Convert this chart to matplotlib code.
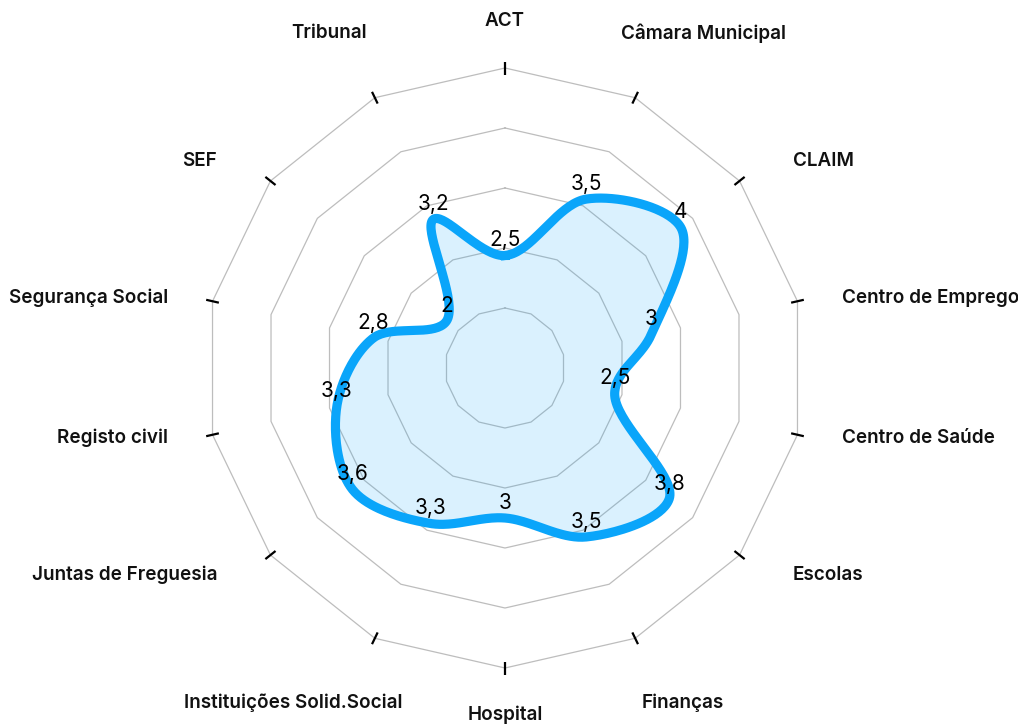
import numpy as np
import matplotlib
matplotlib.use("Agg")
import matplotlib.pyplot as plt

plt.rcParams["font.family"] = ["Inter", "DejaVu Sans"]

categories = [
    "ACT", "Câmara Municipal", "CLAIM", "Centro de Emprego", "Centro de Saúde",
    "Escolas", "Finanças", "Hospital", "Instituições Solid.Social",
    "Juntas de Freguesia", "Registo civil", "Segurança Social", "SEF", "Tribunal",
]
values = [2.5, 3.5, 4, 3, 2.5, 3.8, 3.5, 3, 3.3, 3.6, 3.3, 2.8, 2, 3.2]
r_min, r_max = 1, 5
n_rings = 5

LINE = "#0aa5fa"
GRID = "#bdbdbd"

W, H = 1018, 727
CX, CY = 505, 368      # centre of the web, in pixels from top-left
R = 300                # outer ring radius in pixels

fig = plt.figure(figsize=(W / 100, H / 100), dpi=100)
ax = fig.add_axes([0, 0, 1, 1])
ax.set_xlim(-CX, W - CX)
ax.set_ylim(-(H - CY), CY)
ax.axis("off")

n = len(categories)
theta = np.arange(n) * 2 * np.pi / n
ux, uy = np.sin(theta), np.cos(theta)


def to_r(v):
    return (np.asarray(v, dtype=float) - r_min) / (r_max - r_min) * R


# polygon grid
for k in range(1, n_rings + 1):
    rr = R * k / n_rings
    ax.plot(np.append(ux, ux[0]) * rr, np.append(uy, uy[0]) * rr,
            color=GRID, lw=0.9, zorder=1)

# small radial ticks on the outer ring
for i in range(n):
    ax.plot([ux[i] * (R - 6.5), ux[i] * (R + 6.5)],
            [uy[i] * (R - 6.5), uy[i] * (R + 6.5)],
            color="black", lw=1.6, solid_capstyle="butt", zorder=2)


# closed centripetal catmull-rom through the data points
def catmull_rom_closed(pts, steps=40, alpha=0.5):
    out = []
    m = len(pts)
    for i in range(m):
        p0, p1, p2, p3 = pts[i - 1], pts[i], pts[(i + 1) % m], pts[(i + 2) % m]
        t0 = 0.0
        t1 = t0 + np.linalg.norm(p1 - p0) ** alpha
        t2 = t1 + np.linalg.norm(p2 - p1) ** alpha
        t3 = t2 + np.linalg.norm(p3 - p2) ** alpha
        t = np.linspace(t1, t2, steps, endpoint=False)[:, None]
        a1 = (t1 - t) / (t1 - t0) * p0 + (t - t0) / (t1 - t0) * p1
        a2 = (t2 - t) / (t2 - t1) * p1 + (t - t1) / (t2 - t1) * p2
        a3 = (t3 - t) / (t3 - t2) * p2 + (t - t2) / (t3 - t2) * p3
        b1 = (t2 - t) / (t2 - t0) * a1 + (t - t0) / (t2 - t0) * a2
        b2 = (t3 - t) / (t3 - t1) * a2 + (t - t1) / (t3 - t1) * a3
        out.append((t2 - t) / (t2 - t1) * b1 + (t - t1) / (t2 - t1) * b2)
    out = np.vstack(out)
    return np.vstack([out, out[:1]])


r = to_r(values)
px, py = ux * r, uy * r
curve = catmull_rom_closed(np.column_stack([px, py]))

ax.fill(curve[:, 0], curve[:, 1], color=LINE, alpha=0.15, lw=0, zorder=3)
ax.plot(curve[:, 0], curve[:, 1], color=LINE, lw=6.6,
        solid_joinstyle="round", zorder=4)

for x, y, v in zip(px, py, values):
    ax.annotate(f"{v:g}".replace(".", ","), (x, y), xytext=(0, 11),
                textcoords="offset points", ha="center", va="center",
                fontsize=15, color="black", zorder=5)

# category labels: placement depends on how far the spoke is from vertical
renderer = fig.canvas.get_renderer()
for i, name in enumerate(categories):
    s = min(i % 7, 7 - i % 7)
    side = np.sign(ux[i]) if s else 0
    up = 1 if uy[i] > 0 else -1
    t = ax.text(0, 0, name, fontsize=13.6, fontweight="semibold",
                color="#111111", ha="center", va="center", zorder=5)
    w = t.get_window_extent(renderer).width
    if s == 0:
        x, y = 0, up * 347
    elif s == 1:
        x, y = side * (157 + 0.25 * w), up * 335
    elif s == 2:
        x, y = side * (288 + 0.5 * w), up * 207
    else:
        x, y = side * (337 + 0.5 * w), up * 70
    t.set_position((x, y))

fig.savefig("out.png", dpi=100, facecolor="white")
plt.close(fig)
